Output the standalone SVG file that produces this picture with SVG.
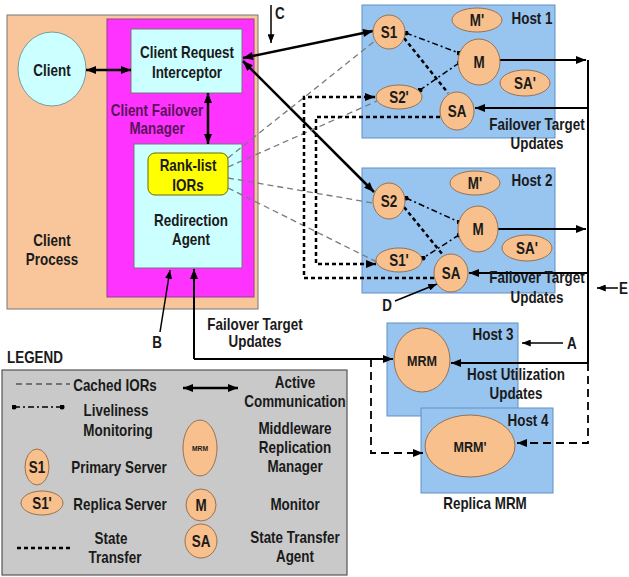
<svg xmlns="http://www.w3.org/2000/svg" width="629" height="577" viewBox="0 0 629 577">
<style>
text{font-family:"Liberation Sans",Arial,sans-serif;font-weight:bold;font-size:16px;fill:#1a1a1a;text-anchor:middle}
.st{text-anchor:start}
.box{stroke:#777;stroke-width:1}
.host{fill:#98C4F0;stroke:#5F8FC5;stroke-width:1}
.ell{fill:#F8C08C;stroke:#9A7050;stroke-width:1}
.thick{fill:none;stroke:#000;stroke-width:2.5}
.thin{fill:none;stroke:#000;stroke-width:1.5}
.ior{fill:none;stroke:#7a7a7a;stroke-width:1.3;stroke-dasharray:6 4}
.stx{fill:none;stroke:#000;stroke-width:2.5;stroke-dasharray:4 3}
.live{fill:none;stroke:#000;stroke-width:1.5;stroke-dasharray:6 3 2 3}
.rep{fill:none;stroke:#000;stroke-width:1.8;stroke-dasharray:8 5}
.bus{fill:none;stroke:#000;stroke-width:2}
</style>
<defs>
<marker id="ah" viewBox="0 0 10 8" refX="10" refY="4" markerWidth="11" markerHeight="8" orient="auto-start-reverse" markerUnits="userSpaceOnUse"><path d="M0,0 L10,4 L0,8 z" fill="#000"/></marker>
<marker id="as" viewBox="0 0 10 8" refX="10" refY="4" markerWidth="9" markerHeight="7" orient="auto-start-reverse" markerUnits="userSpaceOnUse"><path d="M0,0 L10,4 L0,8 z" fill="#000"/></marker>
<marker id="dot" viewBox="0 0 6 6" refX="3" refY="3" markerWidth="5" markerHeight="5" markerUnits="userSpaceOnUse"><circle cx="3" cy="3" r="3" fill="#000"/></marker>
</defs>

<g id="client-process">
<rect x="7" y="15" width="251" height="294" fill="#F9C69C" class="box"/>
<text transform="translate(52,246) scale(.84,1)">Client</text>
<text transform="translate(52,265) scale(.84,1)">Process</text>
</g>
<g id="client-failover-manager">
<rect x="107" y="19" width="147" height="278" fill="#FF33FF" stroke="#9a3a9a" stroke-width="1"/>
<text transform="translate(157,116) scale(.84,1)" style="fill:#5A145A">Client Failover</text>
<text transform="translate(157,134) scale(.84,1)" style="fill:#5A145A">Manager</text>
</g>
<g id="client">
<ellipse cx="52" cy="69" rx="34" ry="37" fill="#CCFFFF" stroke="#7a9a9a"/>
<text transform="translate(52,76) scale(.84,1)">Client</text>
</g>
<g id="client-request-interceptor">
<rect x="131" y="29" width="111" height="64" fill="#CCFFFF" class="box"/>
<text transform="translate(187,58) scale(.84,1)">Client Request</text>
<text transform="translate(187,78) scale(.84,1)">Interceptor</text>
</g>
<g id="redirection-agent">
<rect x="134" y="144" width="108" height="124" fill="#CCFFFF" class="box"/>
<text transform="translate(191,226) scale(.84,1)">Redirection</text>
<text transform="translate(191,245) scale(.84,1)">Agent</text>
</g>
<g id="rank-list-iors">
<rect x="148" y="153" width="80" height="42" rx="7" fill="#FFFF00" stroke="#6a6a00" stroke-width="1"/>
<text transform="translate(188,171) scale(.84,1)">Rank-list</text>
<text transform="translate(188,191) scale(.84,1)">IORs</text>
</g>

<g id="host1">
<rect x="362" y="5" width="193" height="133" class="host"/>
<text transform="translate(532,24) scale(.84,1)">Host 1</text>
</g>
<g id="host2">
<rect x="362" y="168" width="193" height="125" class="host"/>
<text transform="translate(532,186) scale(.84,1)">Host 2</text>
</g>
<g id="host3">
<rect x="387" y="323" width="131" height="93" class="host"/>
<text transform="translate(493,340) scale(.84,1)">Host 3</text>
</g>
<g id="host4">
<rect x="421" y="408" width="132" height="85" class="host"/>
<text transform="translate(528,426) scale(.84,1)">Host 4</text>
</g>

<g id="legend">
<text transform="translate(7,363) scale(.84,1)" class="st">LEGEND</text>
<rect x="2" y="370" width="345" height="205" fill="#C9C9C9" stroke="#555" stroke-width="1.2"/>
<path d="M16,384 L70,384" class="ior" style="stroke:#555"/>
<text transform="translate(115,391) scale(.84,1)">Cached IORs</text>
<path d="M183,388 L238,388" class="thick" marker-start="url(#ah)" marker-end="url(#ah)"/>
<text transform="translate(295,388) scale(.84,1)">Active</text>
<text transform="translate(295,407) scale(.84,1)">Communication</text>
<path d="M14,407 L62,407" class="live" marker-start="url(#dot)" marker-end="url(#dot)"/>
<text transform="translate(116,416) scale(.84,1)">Liveliness</text>
<text transform="translate(118,436) scale(.84,1)">Monitoring</text>
<ellipse cx="37" cy="467" rx="12" ry="18" class="ell"/>
<text transform="translate(37,473) scale(.84,1)">S1</text>
<text transform="translate(119,473) scale(.84,1)">Primary Server</text>
<ellipse cx="42" cy="503" rx="21" ry="12" class="ell"/>
<text transform="translate(42,509) scale(.84,1)">S1'</text>
<text transform="translate(120,510) scale(.84,1)">Replica Server</text>
<path d="M17,548 L71,548" class="stx"/>
<text transform="translate(111,544) scale(.84,1)">State</text>
<text transform="translate(115,563) scale(.84,1)">Transfer</text>
<ellipse cx="200" cy="448" rx="17" ry="28" class="ell"/>
<text transform="translate(200,451) scale(.84,1)" style="font-size:8px">MRM</text>
<text transform="translate(295,434) scale(.84,1)">Middleware</text>
<text transform="translate(295,453) scale(.84,1)">Replication</text>
<text transform="translate(295,472) scale(.84,1)">Manager</text>
<ellipse cx="201" cy="505" rx="15" ry="16" class="ell"/>
<text transform="translate(201,511) scale(.84,1)">M</text>
<text transform="translate(295,510) scale(.84,1)">Monitor</text>
<ellipse cx="201" cy="541" rx="16" ry="17" class="ell"/>
<text transform="translate(201,547) scale(.84,1)">SA</text>
<text transform="translate(295,543) scale(.84,1)">State Transfer</text>
<text transform="translate(295,562) scale(.84,1)">Agent</text>
</g>

<g id="connectors">
<path d="M86,70 L131,70" class="thick" marker-start="url(#ah)" marker-end="url(#ah)"/>
<path d="M208,93 L208,144" class="thick" marker-start="url(#ah)" marker-end="url(#ah)"/>
<path d="M271,5 L271,43" class="thin" marker-end="url(#as)"/>
<path d="M243,58 L373,31" class="thick" marker-start="url(#ah)" marker-end="url(#ah)"/>
<path d="M243,61 L374,192" class="thick" marker-start="url(#ah)" marker-end="url(#ah)"/>
<path d="M228,158 L376,40" class="ior"/>
<path d="M228,167 L377,101" class="ior"/>
<path d="M228,178 L373,203" class="ior"/>
<path d="M228,188 L377,262" class="ior"/>
<path d="M434,278 L304,278 L304,97 L375,97" class="stx" marker-end="url(#ah)"/>
<path d="M440,117 L316,117 L316,264 L376,264" class="stx" marker-end="url(#ah)"/>
<path d="M404,38 L448,93" class="stx"/>
<path d="M404,207 L443,255" class="stx"/>
<path d="M406,33 L459,53" class="live" marker-start="url(#dot)" marker-end="url(#dot)"/>
<path d="M459,63 L420,90" class="live" marker-start="url(#dot)" marker-end="url(#dot)"/>
<path d="M406,198 L459,222" class="live" marker-start="url(#dot)" marker-end="url(#dot)"/>
<path d="M459,235 L423,258" class="live" marker-start="url(#dot)" marker-end="url(#dot)"/>
<path d="M588,60 L588,363" class="bus"/>
<path d="M500,60 L586,60" class="bus" marker-end="url(#ah)"/>
<path d="M588,108 L475,108" class="bus" marker-end="url(#ah)"/>
<path d="M498,229 L586,229" class="bus" marker-end="url(#ah)"/>
<path d="M588,273 L469,273" class="bus" marker-end="url(#ah)"/>
<path d="M588,363 L451,363" class="bus" marker-end="url(#ah)"/>
<path d="M588,363 L588,443 L517,443" class="rep" marker-end="url(#ah)"/>
<path d="M194,359 L194,269" class="bus" marker-end="url(#ah)"/>
<path d="M194,359 L393,359" class="bus" marker-end="url(#ah)"/>
<path d="M371,359 L371,453 L423,453" class="rep" marker-end="url(#ah)"/>
<path d="M160,332 L170,270" class="thin" marker-end="url(#as)"/>
<path d="M395,301 L437,284" class="thin" marker-end="url(#as)"/>
<path d="M618,288 L597,288" class="thin" marker-end="url(#as)"/>
<path d="M563,343 L522,343" class="thin" marker-end="url(#as)"/>
</g>

<g id="labels">
<text transform="translate(275,19) scale(.84,1)" class="st">C</text>
<text transform="translate(157,348) scale(.84,1)">B</text>
<text transform="translate(387,311) scale(.84,1)">D</text>
<text transform="translate(619,294) scale(.84,1)" class="st">E</text>
<text transform="translate(567,349) scale(.84,1)" class="st">A</text>
<text transform="translate(255,330) scale(.84,1)">Failover Target</text>
<text transform="translate(255,347) scale(.84,1)">Updates</text>
<text transform="translate(537,130) scale(.84,1)">Failover Target</text>
<text transform="translate(537,149) scale(.84,1)">Updates</text>
<text transform="translate(537,283) scale(.84,1)">Failover Target</text>
<text transform="translate(537,303) scale(.84,1)">Updates</text>
<text transform="translate(516,380) scale(.84,1)">Host Utilization</text>
<text transform="translate(516,399) scale(.84,1)">Updates</text>
<text transform="translate(485,509) scale(.84,1)">Replica MRM</text>
</g>

<g id="h1-s1"><ellipse cx="389" cy="32" rx="16" ry="17" class="ell"/><text transform="translate(389,38) scale(.84,1)">S1</text></g>
<g id="h1-mprime"><ellipse cx="477" cy="20" rx="25" ry="12" class="ell"/><text transform="translate(477,26) scale(.84,1)">M'</text></g>
<g id="h1-m"><ellipse cx="479" cy="62" rx="21" ry="23" class="ell"/><text transform="translate(479,68) scale(.84,1)">M</text></g>
<g id="h1-saprime"><ellipse cx="525" cy="83" rx="25" ry="13" class="ell"/><text transform="translate(525,89) scale(.84,1)">SA'</text></g>
<g id="h1-s2prime"><ellipse cx="399" cy="97" rx="23" ry="12" class="ell"/><text transform="translate(399,103) scale(.84,1)">S2'</text></g>
<g id="h1-sa"><ellipse cx="457" cy="111" rx="17" ry="19" class="ell"/><text transform="translate(457,117) scale(.84,1)">SA</text></g>

<g id="h2-s2"><ellipse cx="389" cy="201" rx="16" ry="18" class="ell"/><text transform="translate(389,207) scale(.84,1)">S2</text></g>
<g id="h2-mprime"><ellipse cx="475" cy="183" rx="25" ry="12" class="ell"/><text transform="translate(475,189) scale(.84,1)">M'</text></g>
<g id="h2-m"><ellipse cx="478" cy="229" rx="20" ry="23" class="ell"/><text transform="translate(478,235) scale(.84,1)">M</text></g>
<g id="h2-saprime"><ellipse cx="527" cy="248" rx="25" ry="13" class="ell"/><text transform="translate(527,254) scale(.84,1)">SA'</text></g>
<g id="h2-s1prime"><ellipse cx="399" cy="260" rx="23" ry="12" class="ell"/><text transform="translate(399,266) scale(.84,1)">S1'</text></g>
<g id="h2-sa"><ellipse cx="451" cy="273" rx="17" ry="19" class="ell"/><text transform="translate(451,279) scale(.84,1)">SA</text></g>

<g id="mrm"><ellipse cx="422" cy="360" rx="28" ry="32" class="ell"/><text transform="translate(422,366) scale(.84,1)" style="font-size:15px">MRM</text></g>
<g id="mrm-replica"><ellipse cx="470" cy="446" rx="45" ry="31" class="ell"/><text transform="translate(470,452) scale(.84,1)" style="font-size:15px">MRM'</text></g>
</svg>
